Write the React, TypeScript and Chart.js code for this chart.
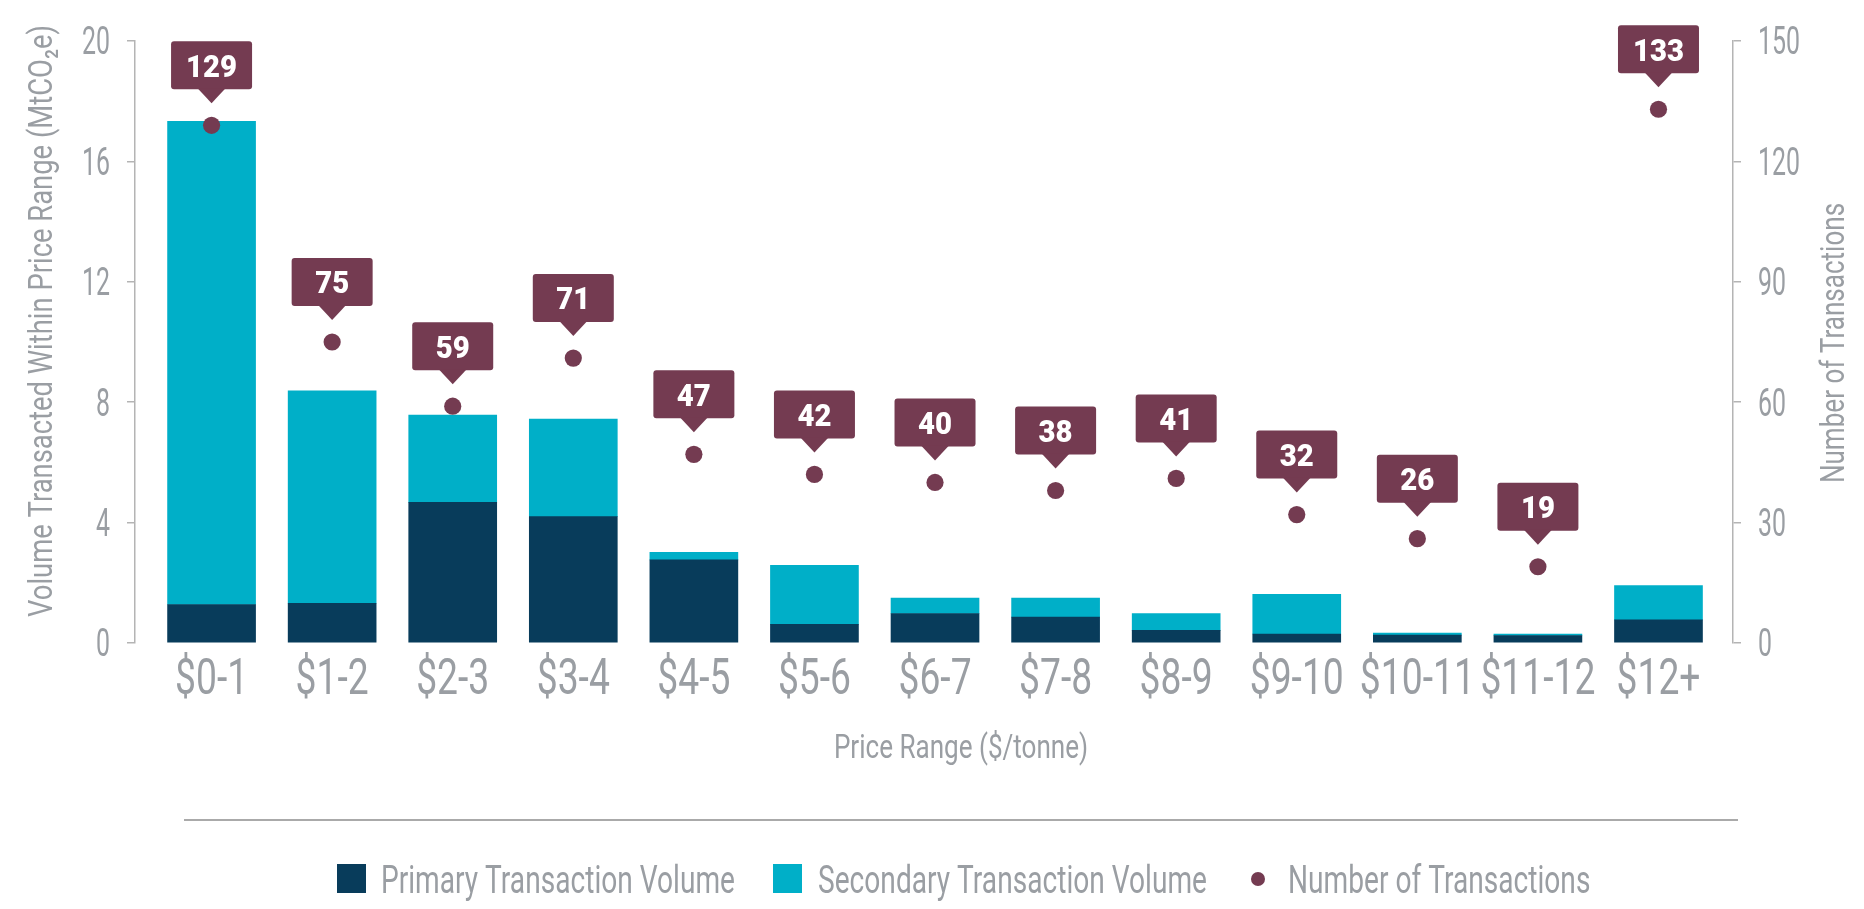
import React, { useEffect, useRef } from 'react';
import { Chart, registerables } from 'chart.js';

Chart.register(...registerables);

// ---------- data ----------
const categories = ['$0-1', '$1-2', '$2-3', '$3-4', '$4-5', '$5-6', '$6-7', '$7-8', '$8-9', '$9-10', '$10-11', '$11-12', '$12+'];
const primaryVolume = [1.28, 1.32, 4.67, 4.2, 2.76, 0.62, 0.98, 0.86, 0.42, 0.3, 0.26, 0.25, 0.77];
const secondaryVolume = [16.05, 7.06, 2.9, 3.24, 0.25, 1.96, 0.51, 0.63, 0.56, 1.32, 0.07, 0.05, 1.14];
const transactions = [129, 75, 59, 71, 47, 42, 40, 38, 41, 32, 26, 19, 133];
const leftAxisTicks = [0, 4, 8, 12, 16, 20];
const rightAxisTicks = [0, 30, 60, 90, 120, 150];
const seriesNames = ['Primary Transaction Volume', 'Secondary Transaction Volume', 'Number of Transactions'];
const leftTitle = 'Volume Transacted Within Price Range (MtCO₂e)';
const rightTitle = 'Number of Transactions';
const xTitle = 'Price Range ($/tonne)';

// ---------- style ----------
const NAVY = '#083c5b';
const CYAN = '#00afc8';
const MAROON = '#743b51';
const GRAY = '#9a9ea3';
const AXIS = '#b4b4b4';
const FAMILY = 'Roboto, "Liberation Sans", sans-serif';

function measure(text: string, size: number, weight = 'normal'): number {
  const c = document.createElement('canvas').getContext('2d')!;
  c.font = `${weight} ${size}px ${FAMILY}`;
  return c.measureText(text).width;
}

type TextOpts = { size: number; sx: number; weight?: string; align?: CanvasTextAlign; color?: string; rotate?: number };

// draws text whose cap-height centre sits at (x, y), horizontally condensed by sx
function drawText(ctx: CanvasRenderingContext2D, text: string, x: number, y: number, o: TextOpts) {
  ctx.save();
  ctx.translate(x, y);
  if (o.rotate) ctx.rotate(o.rotate);
  ctx.scale(o.sx, 1);
  ctx.font = `${o.weight || 'normal'} ${o.size}px ${FAMILY}`;
  ctx.fillStyle = o.color || GRAY;
  ctx.textAlign = o.align || 'center';
  ctx.textBaseline = 'alphabetic';
  ctx.fillText(text, 0, 0.355 * o.size);
  ctx.restore();
}

export default function App() {
  const ref = useRef<HTMLCanvasElement | null>(null);

  useEffect(() => {
    const canvas = ref.current;
    if (!canvas) return;

    const T = {
      xTick: { size: 50, sx: Math.min(1, 115 / measure('$10-11', 50)) },
      yTick: { size: 38, sx: Math.min(1, 42 / measure('150', 38)) },
      title: { size: 33, sx: Math.min(1, 563 / measure(leftTitle, 33)) },
      leftTitle: { size: 34, sx: Math.min(1, 592 / measure(leftTitle, 34)) },
      legend: { size: 39, sx: Math.min(1, 354 / measure(seriesNames[0], 39)) },
      callout: { size: 32, sx: Math.min(1, 51 / measure('129', 32, '900')), weight: '900' },
    };

    const overlay = {
      id: 'overlay',
      afterDatasetsDraw(chart: any) {
        const ctx = chart.ctx as CanvasRenderingContext2D;
        const meta = chart.getDatasetMeta(2);
        meta.data.forEach((pt: any, i: number) => {
          const x = pt.x;
          const y = pt.y;
          const bw = 81;
          const bh = 48;
          const boxBottom = y - 36;
          const boxTop = boxBottom - bh;
          ctx.save();
          ctx.fillStyle = MAROON;
          ctx.beginPath();
          (ctx as any).roundRect(x - bw / 2, boxTop, bw, bh, 3);
          ctx.fill();
          ctx.beginPath();
          ctx.moveTo(x - 14, boxBottom - 1);
          ctx.lineTo(x + 14, boxBottom - 1);
          ctx.lineTo(x, y - 22);
          ctx.closePath();
          ctx.fill();
          ctx.restore();
          drawText(ctx, String(transactions[i]), x, boxTop + bh / 2, { ...T.callout, color: '#ffffff' });
        });
      },
      afterDraw(chart: any) {
        const ctx = chart.ctx as CanvasRenderingContext2D;
        const xs = chart.scales.x;
        const ys = chart.scales.y;
        const y1 = chart.scales.y1;
        // tick labels
        categories.forEach((c, i) => drawText(ctx, c, xs.getPixelForValue(i), 676, T.xTick));
        leftAxisTicks.forEach((v) => drawText(ctx, String(v), 110, ys.getPixelForValue(v), { ...T.yTick, align: 'right' }));
        rightAxisTicks.forEach((v) => drawText(ctx, String(v), 1758, y1.getPixelForValue(v), { ...T.yTick, align: 'left' }));
        // axis titles
        drawText(ctx, leftTitle, 40, 321, { ...T.leftTitle, rotate: -Math.PI / 2 });
        drawText(ctx, rightTitle, 1832, 343, { ...T.title, rotate: -Math.PI / 2 });
        drawText(ctx, xTitle, 961, 746, T.title);
        // separator
        ctx.save();
        ctx.fillStyle = '#aaaaaa';
        ctx.fillRect(184, 819, 1554, 2);
        // legend
        ctx.fillStyle = NAVY;
        ctx.fillRect(337, 864, 29, 29);
        ctx.fillStyle = CYAN;
        ctx.fillRect(773, 864, 29, 29);
        ctx.fillStyle = MAROON;
        ctx.beginPath();
        ctx.arc(1258, 879, 7, 0, Math.PI * 2);
        ctx.fill();
        ctx.restore();
        drawText(ctx, seriesNames[0], 381, 879, { ...T.legend, align: 'left' });
        drawText(ctx, seriesNames[1], 818, 879, { ...T.legend, align: 'left' });
        drawText(ctx, seriesNames[2], 1288, 879, { ...T.legend, align: 'left' });
      },
    };

    const chart = new Chart(canvas, {
      type: 'bar',
      data: {
        datasets: [
          {
            type: 'bar',
            label: seriesNames[0],
            data: primaryVolume.map((v, i) => ({ x: i, y: v })),
            backgroundColor: NAVY,
            stack: 'vol',
            yAxisID: 'y',
            order: 1,
            barThickness: 88,
          },
          {
            type: 'bar',
            label: seriesNames[1],
            data: secondaryVolume.map((v, i) => ({ x: i, y: v })),
            backgroundColor: CYAN,
            stack: 'vol',
            yAxisID: 'y',
            order: 1,
            barThickness: 88,
          },
          {
            type: 'scatter',
            label: seriesNames[2],
            data: transactions.map((v, i) => ({ x: i, y: v })),
            backgroundColor: MAROON,
            borderWidth: 0,
            pointRadius: 8.6,
            yAxisID: 'y1',
            order: 0,
          } as any,
        ],
      },
      options: {
        animation: false,
        responsive: false,
        events: [],
        layout: { padding: { top: 41, left: 0, right: 0, bottom: 0 } },
        plugins: { legend: { display: false }, tooltip: { enabled: false } },
        scales: {
          x: {
            type: 'linear',
            min: -0.635,
            max: 12.618,
            bounds: 'data',
            offset: false,
            stacked: true,
            grid: { display: false, offset: false },
            border: { display: false },
            afterBuildTicks(scale: any) {
              scale.ticks = categories.map((_, i) => ({ value: i }));
            },
            ticks: { display: false },
            afterFit(scale: any) {
              scale.height = 266;
              scale.paddingLeft = 0;
              scale.paddingRight = 0;
            },
          } as any,
          y: {
            type: 'linear',
            position: 'left',
            stacked: true,
            min: leftAxisTicks[0],
            max: leftAxisTicks[leftAxisTicks.length - 1],
            grid: { drawOnChartArea: false, drawTicks: true, tickLength: 8, color: AXIS, lineWidth: 1.5 },
            border: { display: true, color: AXIS, width: 1.5 },
            ticks: { display: false, stepSize: leftAxisTicks[1] - leftAxisTicks[0] },
            afterFit(scale: any) {
              scale.width = 135;
              scale.paddingTop = 0;
              scale.paddingBottom = 0;
            },
          } as any,
          y1: {
            type: 'linear',
            position: 'right',
            min: rightAxisTicks[0],
            max: rightAxisTicks[rightAxisTicks.length - 1],
            grid: { drawOnChartArea: false, drawTicks: true, tickLength: 8, color: AXIS, lineWidth: 1.5 },
            border: { display: true, color: AXIS, width: 1.5 },
            ticks: { display: false, stepSize: rightAxisTicks[1] - rightAxisTicks[0] },
            afterFit(scale: any) {
              scale.width = 131;
              scale.paddingTop = 0;
              scale.paddingBottom = 0;
            },
          } as any,
        },
      },
      plugins: [overlay],
    });
    return () => chart.destroy();
  }, []);

  return (
    <div style={{ position: 'relative', width: 1864, height: 909, background: '#fff', overflow: 'hidden' }}>
      <style>{`body{margin:0;}`}</style>
      <canvas ref={ref} width={1864} height={909} style={{ position: 'absolute', left: 0, top: 0, display: 'block' }} />
    </div>
  );
}
